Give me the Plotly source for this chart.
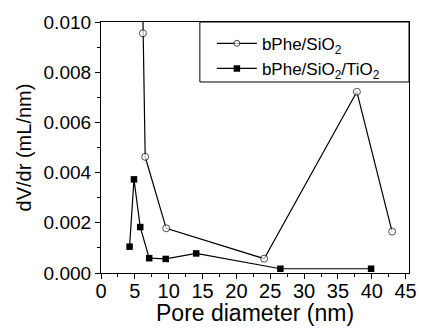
import plotly.graph_objects as go

# bPhe/SiO2 (hollow circles); first point lies above the visible range
x_sio2 = [6.05, 6.19, 6.53, 9.63, 24.1, 37.8, 43.0]
y_sio2 = [0.0125, 0.00955, 0.00463, 0.00178, 0.00057, 0.00722, 0.00165]
show_sio2 = [False, True, True, True, True, True, True]

# bPhe/SiO2/TiO2 (filled squares)
x_tio2 = [4.22, 4.87, 5.8, 7.12, 9.56, 14.06, 26.5, 39.9]
y_tio2 = [0.00105, 0.00373, 0.00183, 0.00059, 0.00056, 0.00078, 0.00017, 0.00017]

x_ticks = [0, 5, 10, 15, 20, 25, 30, 35, 40, 45]
y_ticks = [0.000, 0.002, 0.004, 0.006, 0.008, 0.010]

font = "Liberation Sans, Arial, sans-serif"

fig = go.Figure()
fig.add_trace(go.Scatter(
    x=x_sio2, y=y_sio2, mode="lines+markers",
    name="bPhe/SiO<sub>2</sub>",
    line=dict(color="black", width=1.2),
    marker=dict(symbol="circle", size=[0 if not s else 7 for s in show_sio2],
                color="white", line=dict(width=1, color="black")),
))
fig.add_trace(go.Scatter(
    x=x_tio2, y=y_tio2, mode="lines+markers",
    name="bPhe/SiO<sub>2</sub>/TiO<sub>2</sub>",
    line=dict(color="black", width=1.2),
    marker=dict(symbol="square", size=6.5, color="black"),
))

fig.update_layout(
    width=422, height=328,
    margin=dict(l=101, r=13, t=22, b=55, autoexpand=False),
    paper_bgcolor="white", plot_bgcolor="white",
    font=dict(family=font, color="black", size=18),
    showlegend=True,
    legend=dict(x=0.36, y=0.985, xanchor="left", yanchor="top",
                borderwidth=0, bgcolor="rgba(0,0,0,0)",
                font=dict(size=17), tracegroupgap=0, itemwidth=40,
                traceorder="normal"),
    shapes=[dict(type="rect", xref="paper", yref="paper",
                 x0=0.321, x1=1.0, y0=0.761, y1=1.0,
                 line=dict(color="black", width=1), fillcolor="white",
                 layer="below")],
    annotations=[dict(text="Pore diameter (nm)", xref="paper", yref="paper",
                      x=0.5, y=-0.16, xanchor="center", yanchor="middle",
                      showarrow=False, font=dict(size=23))],
)
fig.update_xaxes(
    range=[0, 45.5], tickvals=x_ticks, ticks="outside", ticklen=5,
    minor=dict(dtick=2.5, ticks="outside", ticklen=3, tickcolor="black"),
    showline=True, linecolor="black", linewidth=1.2, mirror=True,
    showgrid=False, zeroline=False, tickcolor="black", automargin=False,
    tickfont=dict(size=20), ticklabelstandoff=-5,
)
fig.update_yaxes(
    range=[0, 0.010], tickvals=y_ticks, tickformat=".3f", ticks="outside", ticklen=5,
    minor=dict(dtick=0.001, ticks="outside", ticklen=3, tickcolor="black"),
    showline=True, linecolor="black", linewidth=1.2, mirror=True,
    showgrid=False, zeroline=False, tickcolor="black", automargin=False,
    title=dict(text="dV/dr (mL/nm)", font=dict(size=20), standoff=6),
    tickfont=dict(size=19),
)

fig.write_html("out.html")
